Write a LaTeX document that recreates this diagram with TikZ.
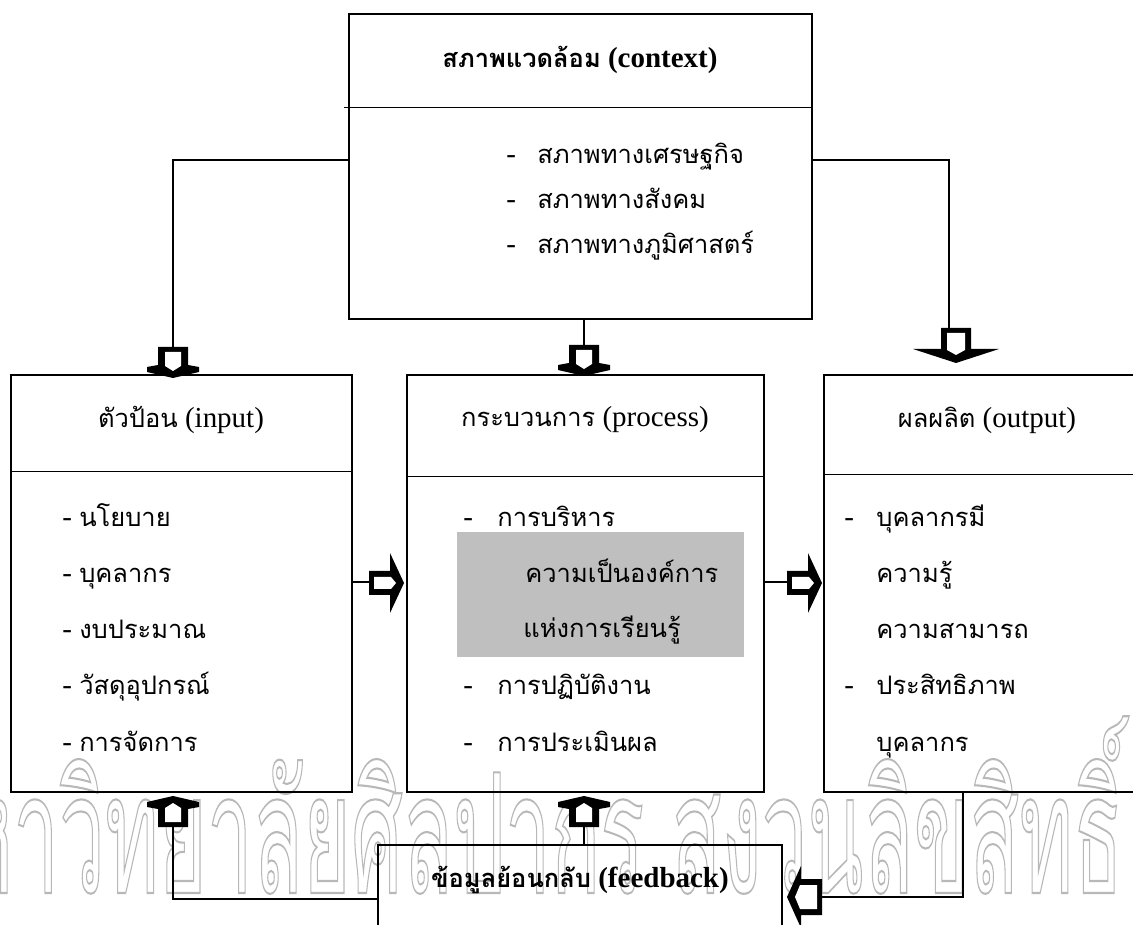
\documentclass[tikz,border=0pt]{standalone}
\usepackage{fontspec}
\setmainfont{Liberation Serif}
\newfontfamily\thaifont[Script=Thai]{Loma}
\usetikzlibrary{fit}
\newcommand\thai[1]{{\thaifont\fontsize{14.5}{17}\selectfont #1}}
\newcommand\dashitem[2]{\makebox[#1][l]{-}\thai{#2}}
\newcommand\outlinetext[1]{\special{pdf:literal direct 1 Tr 1.2 w}#1\special{pdf:literal direct 0 Tr}}

\begin{document}
\begin{tikzpicture}[
  x=0.02cm, y=-0.02cm,
  box/.style={draw, line width=0.8pt, inner sep=0pt},
  link/.style={line width=0.8pt},
  title/.style={inner sep=0pt, font=\fontsize{16.5}{19}\selectfont},
  item/.style={anchor=base west, inner sep=0pt, font=\fontsize{16.5}{19}\selectfont},
  watermark/.style={inner sep=0pt, text=black!28, font=\thaifont\fontsize{95}{100}\selectfont},
  pics/smallarr/.style={code={
    \fill[black] (-31,-15) -- (-13,-15) -- (-11,-26) -- (-6,-26) -- (0,0)
      -- (-6,26) -- (-11,26) -- (-13,15) -- (-31,15) -- cycle;
    \fill[white] (-26,-8) -- (-12,-8) -- (-7,0) -- (-12,8) -- (-26,8) -- cycle;
  }},
  pics/bigarr/.style 2 args={code={
    \fill[black] (-35,-#1) -- (-14,-#1) -- (-14,-#2) -- (0,0)
      -- (-14,#2) -- (-14,#1) -- (-35,#1) -- cycle;
    \fill[white] (-30,-#1+6) -- (-13,-#1+6) -- (-8,0) -- (-13,#1-6) -- (-30,#1-6) -- cycle;
  }}
]
\useasboundingbox (0,0) rectangle (1133,925);
\clip (0,0) rectangle (1133,925);

% watermark
\node[watermark, anchor=base west] (wm) at (-95,893)
  {\scalebox{0.49}[1]{\outlinetext{มหาวิทยาลัยศิลปากร สงวนลิขสิทธิ์}}};

% context
\node[box, fit={(349,14) (812,319)}] (ctx) {};
\draw[link] (ctx.north west) ++(-4,94) -- ++(467,0);
\node[title] (ctxt) at (580,60) {\textbf{\thai{สภาพแวดล้อม} (context)}};
\node[item] (c1) at (506,164) {\dashitem{0.62cm}{สภาพทางเศรษฐกิจ}};
\node[item] (c2) at (506,209) {\dashitem{0.62cm}{สภาพทางสังคม}};
\node[item] (c3) at (506,254) {\dashitem{0.62cm}{สภาพทางภูมิศาสตร์}};

% input
\node[box, fit={(11,375) (352,792)}] (inp) {};
\draw[link] (inp.north west) ++(0,97) -- ++(341,0);
\node[title] (inpt) at (181,420) {\thai{ตัวป้อน} (input)};
\node[item] (i1) at (62,527) {- \thai{นโยบาย}};
\node[item] (i2) at (62,583) {- \thai{บุคลากร}};
\node[item] (i3) at (62,639) {- \thai{งบประมาณ}};
\node[item] (i4) at (62,695) {- \thai{วัสดุอุปกรณ์}};
\node[item] (i5) at (62,751) {- \thai{การจัดการ}};

% process
\node[box, fit={(407,375) (764,792)}] (proc) {};
\draw[link] (proc.north west) ++(0,102) -- ++(357,0);
\node[title] (proct) at (585,420) {\thai{กระบวนการ} (process)};
\fill[black!25] (457,532) rectangle (744,657);
\node[item] (p1) at (463,527) {\dashitem{0.68cm}{การบริหาร}};
\node[item] (p2) at (525,583) {\thai{ความเป็นองค์การ}};
\node[item] (p3) at (523,638) {\thai{แห่งการเรียนรู้}};
\node[item] (p4) at (463,695) {\dashitem{0.68cm}{การปฏิบัติงาน}};
\node[item] (p5) at (463,751) {\dashitem{0.68cm}{การประเมินผล}};

% output
\node[box, fit={(824,375) (1145,792)}] (out) {};
\draw[link] (out.north west) ++(0,100) -- ++(321,0);
\node[title] (outt) at (987,420) {\thai{ผลผลิต} (output)};
\node[item] (o1) at (844,527) {\dashitem{0.64cm}{บุคลากรมี}};
\node[item] (o2) at (876,583) {\thai{ความรู้}};
\node[item] (o3) at (876,639) {\thai{ความสามารถ}};
\node[item] (o4) at (844,695) {\dashitem{0.64cm}{ประสิทธิภาพ}};
\node[item] (o5) at (876,751) {\thai{บุคลากร}};

% feedback
\node[box, fit={(378,845) (782,960)}] (fb) {};
\node[title] (fbt) at (580,880) {\textbf{\thai{ข้อมูลย้อนกลับ} (feedback)}};

% block arrows
\pic[rotate=-90] at (173,378) {smallarr};
\pic[rotate=-90] at (584,376) {smallarr};
\pic[rotate=-90] at (956,363) {bigarr={15}{43}};
\pic at (404,583) {bigarr={12}{30}};
\pic at (822,583) {bigarr={12}{30}};
\pic[rotate=90] at (173,796) {smallarr};
\pic[rotate=90] at (584,796) {smallarr};
\pic[rotate=180] at (787,897) {bigarr={18}{31}};
\coordinate (a1) at (173,347);
\coordinate (a2) at (584,345);
\coordinate (a3) at (949,328);
\coordinate (a4) at (370,582);
\coordinate (a5) at (788,582);
\coordinate (a6) at (173,827);
\coordinate (a7) at (584,827);
\coordinate (a8) at (820,897);

% connectors
\draw[link] (ctx.west |- 0,160) -| (a1);
\draw[link] (ctx.south -| a2) -- (a2);
\draw[link] (ctx.east |- 0,160) -| (a3);
\draw[link] (inp.east |- a4) -- (a4);
\draw[link] (proc.east |- a5) -- (a5);
\draw[link] (a6) |- (fb.west |- 0,899);
\draw[link] (a7) -- (a7 |- fb.north);
\draw[link] (out.south -| 963,0) |- (a8);

\end{tikzpicture}
\end{document}
